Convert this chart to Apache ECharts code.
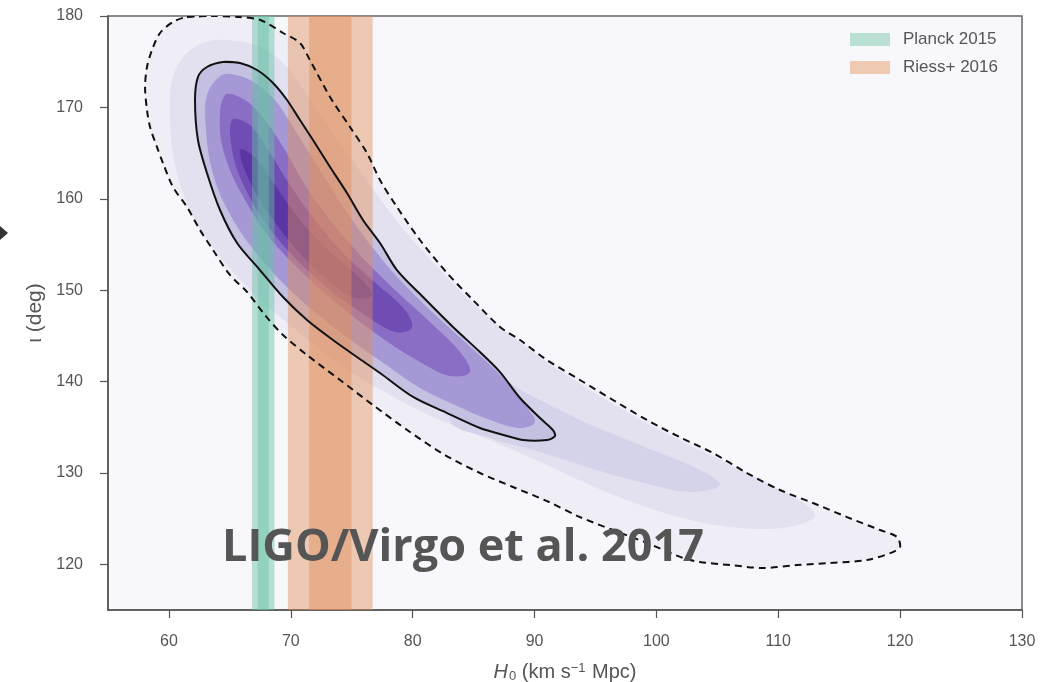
<!DOCTYPE html>
<html>
<head>
<meta charset="utf-8">
<script src="https://cdn.jsdelivr.net/npm/echarts@6/dist/echarts.min.js"></script>
<style>
html,body{margin:0;padding:0;background:#ffffff;}
#chart{width:1058px;height:682px;}
</style>
</head>
<body>
<div id="chart"></div>
<script>
// ---------- data ----------
const xTicks = [60, 70, 80, 90, 100, 110, 120, 130];
const yTicks = [120, 130, 140, 150, 160, 170, 180];

// H0 bands [low, high] (2-sigma, 1-sigma)
const planckBands = [[66.82, 68.66], [67.28, 68.20]];
const riessBands = [[69.76, 76.72], [71.50, 74.98]];

// 90% credible contour (dashed), [H0, iota]
const contour90 = [
  [61.48,179.89],[63.62,180.0],[65.83,179.89],[67.5,179.56],[69.36,178.14],[70.75,177.05],
  [71.57,175.18],[73.22,171.14],[74.86,167.85],[76.25,165.01],[77.32,162.05],[78.71,159.1],
  [80.6,155.49],[82.82,151.88],[84.95,148.92],[87.17,145.97],[88.81,144.54],[91.02,142.35],
  [93.73,140.17],[96.44,137.98],[99.23,135.79],[101.94,133.9],[104.64,132.18],[107.43,129.99],
  [110.14,128.13],[112.85,126.71],[115.64,125.17],[118.35,123.75],[119.74,122.99],[119.99,121.89],
  [119.41,121.34],[117.28,120.47],[114.24,120.14],[111.54,119.92],[108.75,119.59],[106.04,119.92],
  [103.58,120.25],[102.18,120.69],[99.23,122.33],[96.44,123.75],[93.73,125.17],[91.02,126.92],
  [88.23,128.46],[85.52,129.99],[82.65,131.96],[79.78,134.48],[76.74,137.43],[74.04,140.17],
  [71.33,142.9],[69.36,145.09],[67.88,147.28],[66.41,149.8],[65.01,151.66],[63.62,154.39],
  [62.55,156.58],[61.48,159.1],[60.33,161.29],[59.51,163.91],[59.02,165.66],[58.45,167.85],
  [58.2,169.71],[58.04,172.23],[58.2,174.42],[58.61,176.28],[59.27,178.14],[60.33,179.34]
];

// 50% credible contour (solid)
const contour50 = [
  [64.44,174.97],[65.83,174.86],[67.23,174.09],[68.54,172.67],[69.69,170.81],[70.75,168.62],
  [71.82,166.43],[73.22,163.48],[74.61,160.63],[75.92,157.68],[77.32,155.16],[78.71,152.2],
  [80.85,149.25],[83.31,145.97],[85.52,143.23],[87.17,141.04],[88.81,138.2],[90.45,136.01],
  [91.51,134.69],[91.68,134.04],[91.02,133.6],[89.05,133.6],[87.17,134.26],[85.52,134.91],
  [82.82,136.55],[80.03,138.31],[77.32,140.93],[75.43,142.68],[73.46,144.54],[71.33,146.73],
  [69.36,149.25],[67.47,152.2],[65.59,155.16],[64.19,158.77],[63.12,162.82],[62.38,166.43],
  [62.14,170.81],[62.38,173.32],[63.12,174.42]
];

// posterior density filled levels (outer to inner)
const densityLevel1 = [
  [64.6,177.37],[67.06,176.83],[69.11,175.18],[70.75,172.45],[72.4,169.17],[74.45,165.34],
  [76.5,161.51],[78.96,157.13],[82.24,152.2],[85.52,147.83],[89.63,143.45],[94.55,139.07],
  [99.47,135.24],[105.22,131.41],[110.96,127.58],[113.01,125.39],[110.96,124.08],[106.86,123.97],
  [102.76,124.85],[98.65,126.49],[94.55,128.68],[90.45,131.19],[86.34,133.6],[82.24,135.79],
  [78.14,138.52],[74.04,141.81],[69.93,146.19],[66.65,150.02],[63.78,154.39],[61.73,158.77],
  [60.5,163.69],[60.09,168.62],[60.25,173.0],[61.32,175.73],[62.96,177.15]
];
const densityTail = [
  [84.7,141.81],[89.63,138.52],[93.73,135.79],[98.65,133.05],[103.58,130.32],[105.22,128.68],
  [102.76,127.91],[98.65,129.0],[94.55,130.54],[90.45,132.29],[86.34,133.82],[83.06,135.79]
];
const densityLevel3 = [
  [64.35,173.54],[65.83,173.43],[67.06,172.67],[68.70,170.81],[69.93,168.40],[71.00,166.10],
  [72.40,163.15],[73.79,160.19],[75.27,157.24],[76.74,154.61],[78.80,151.33],[81.42,147.83],
  [84.29,144.32],[87.17,140.71],[89.22,137.43],[90.04,135.57],[88.81,134.91],[86.34,135.79],
  [83.47,137.43],[80.60,139.29],[77.73,141.92],[74.04,145.42],[69.93,150.02],[66.65,154.94],
  [64.60,159.32],[63.53,163.15],[63.04,167.52],[63.12,171.35]
];
const densityLevel4 = [
  [64.60,171.35],[66.24,170.81],[67.88,168.62],[69.52,165.34],[71.16,161.51],[73.22,157.68],
  [75.68,153.85],[78.55,150.02],[81.42,146.51],[83.88,143.23],[84.70,141.04],[83.06,140.60],
  [80.60,142.14],[77.73,144.54],[74.45,147.83],[71.16,151.66],[68.29,155.71],[66.24,159.86],
  [64.85,163.69],[64.19,167.52]
];
const densityLevel5 = [
  [65.17,168.62],[66.65,168.07],[68.13,165.34],[69.93,161.51],[71.98,157.68],[74.45,153.85],
  [77.15,150.56],[79.37,147.83],[79.94,145.86],[78.55,145.42],[76.09,147.28],[73.22,150.02],
  [70.34,153.52],[67.88,157.46],[66.24,161.18],[65.26,164.79]
];
const densityLevel6 = [
  [65.83,165.34],[67.14,164.46],[68.70,161.51],[70.75,157.68],[73.22,154.17],[75.68,151.33],
  [76.66,149.47],[75.27,149.14],[72.81,151.33],[70.34,154.61],[68.13,158.55],[66.65,161.83]
];

// ---------- chart ----------
const chart = echarts.init(document.getElementById('chart'), null, {renderer: 'canvas'});

function polygonSeries(pts, fill, z) {
  return {
    type: 'custom', coordinateSystem: 'cartesian2d', data: pts, clip: true, silent: true, z: z,
    encode: {x: 0, y: 1},
    renderItem: function (params, api) {
      if (params.dataIndex !== 0) return null;
      return {
        type: 'polygon',
        shape: {points: pts.map(function (p) { return api.coord(p); }), smooth: 0.35},
        style: {fill: fill}
      };
    }
  };
}
function contourSeries(pts, dashed, z) {
  return {
    type: 'custom', coordinateSystem: 'cartesian2d', data: pts, clip: true, silent: true, z: z,
    encode: {x: 0, y: 1},
    renderItem: function (params, api) {
      if (params.dataIndex !== 0) return null;
      const closed = pts.concat([pts[0], pts[1]]);
      return {
        type: 'polyline',
        shape: {points: closed.map(function (p) { return api.coord(p); }), smooth: 0.3},
        style: {stroke: '#111111', lineWidth: 2, fill: null, lineDash: dashed ? [7, 5] : null}
      };
    }
  };
}
function bandSeries(name, bands, color, z) {
  return {
    type: 'custom', name: name, coordinateSystem: 'cartesian2d', data: bands, clip: true, silent: true, z: z,
    encode: {x: [0, 1]},
    itemStyle: {color: color},
    renderItem: function (params, api) {
      const cs = params.coordSys;
      const x0 = api.coord([api.value(0), 150])[0];
      const x1 = api.coord([api.value(1), 150])[0];
      return {
        type: 'rect',
        shape: {x: x0, y: cs.y, width: x1 - x0, height: cs.height},
        style: {fill: color, opacity: 0.45}
      };
    }
  };
}

const FF = 'Liberation Sans, Arial, sans-serif';
const labelFont = {fontFamily: FF, fontSize: 16, color: '#555555'};

const option = {
  animation: false,
  backgroundColor: '#ffffff',
  grid: {left: 108, right: 36, top: 16, bottom: 72, show: true, backgroundColor: '#f8f7fc',
         borderColor: '#666666', borderWidth: 1.5, containLabel: false, outerBoundsMode: 'none'},
  legend: {
    orient: 'vertical', left: 845, top: 26, icon: 'rect', itemWidth: 40, itemHeight: 13, itemGap: 11,
    selectedMode: false,
    textStyle: {fontFamily: FF, fontSize: 17, color: '#555555', padding: [0, 0, 0, 8]},
    data: [
      {name: 'Planck 2015', itemStyle: {color: '#b9e0d3'}},
      {name: 'Riess+ 2016', itemStyle: {color: '#f0c9b3'}}
    ]
  },
  xAxis: {
    type: 'value', min: 55, max: 130,
    axisLine: {show: true, onZero: false, lineStyle: {color: '#555555', width: 1.5}},
    axisTick: {show: true, customValues: xTicks, length: 8, lineStyle: {color: '#555555', width: 1.2}},
    axisLabel: Object.assign({customValues: xTicks, margin: 24}, labelFont),
    splitLine: {show: false},
    name: '{i|H}{sub|0} (km s{sup|\u22121} Mpc)',
    nameLocation: 'middle', nameGap: 52,
    nameTextStyle: {
      fontFamily: FF, fontSize: 20, color: '#555555',
      rich: {
        i: {fontStyle: 'italic', fontSize: 20, color: '#555555', fontFamily: FF},
        sub: {fontSize: 13, color: '#555555', verticalAlign: 'bottom', padding: [8, 0, 0, 1], fontFamily: FF},
        sup: {fontSize: 13, color: '#555555', verticalAlign: 'top', padding: [0, 1, 8, 0], fontFamily: FF}
      }
    }
  },
  yAxis: {
    type: 'value', min: 115, max: 180,
    axisLine: {show: true, onZero: false, lineStyle: {color: '#555555', width: 1.5}},
    axisTick: {show: true, customValues: yTicks, length: 8, lineStyle: {color: '#555555', width: 1.2}},
    axisLabel: Object.assign({customValues: yTicks, margin: 25}, labelFont),
    splitLine: {show: false},
    name: '\u03B9 (deg)', nameLocation: 'middle', nameGap: 62, nameRotate: 90,
    nameTextStyle: {fontFamily: FF, fontSize: 21, color: '#555555'}
  },
  series: [
    polygonSeries(contour90, '#efeef7', 1),
    polygonSeries(densityLevel1, '#e3e1f0', 2),
    polygonSeries(densityTail, '#d5d3ea', 3),
    polygonSeries(contour50, '#c4c0e2', 4),
    polygonSeries(densityLevel3, '#a598d4', 5),
    polygonSeries(densityLevel4, '#8a6ec5', 6),
    polygonSeries(densityLevel5, '#704cb5', 7),
    polygonSeries(densityLevel6, '#5a35a3', 8),
    bandSeries('Planck 2015', planckBands, '#66c2a5', 10),
    bandSeries('Riess+ 2016', riessBands, '#e18f5c', 10),
    contourSeries(contour90, true, 12),
    contourSeries(contour50, false, 12)
  ],
  graphic: [
    {type: 'text', left: 222, top: 526, z: 100, silent: true,
     style: {text: 'LIGO/Virgo et al. 2017', font: 'bold 45px "Open Sans", Lato, sans-serif', fill: '#555555'}},
    {type: 'polygon', z: 100, silent: true, shape: {points: [[0, 226], [8, 233], [0, 240]]}, style: {fill: '#333333'}}
  ]
};
chart.setOption(option);
</script>
</body>
</html>
